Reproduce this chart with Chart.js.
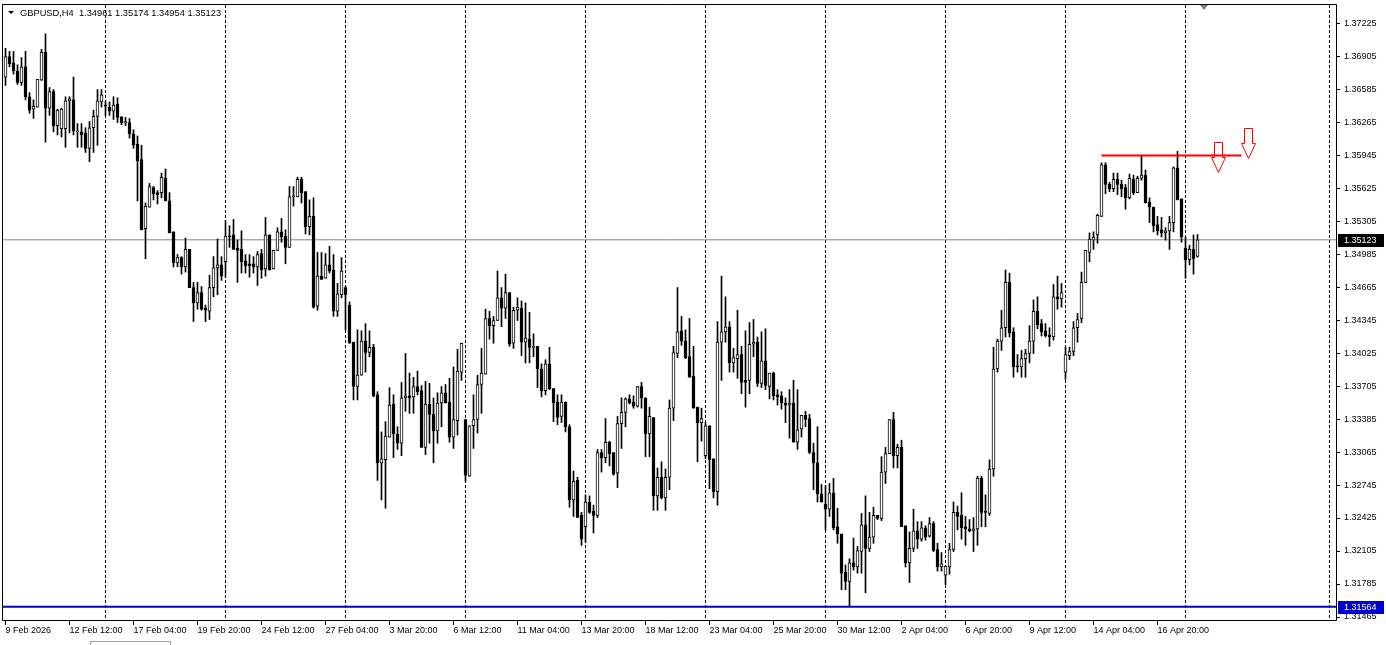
<!DOCTYPE html>
<html>
<head>
<meta charset="utf-8">
<title>GBPUSD,H4</title>
<script src="https://cdn.jsdelivr.net/npm/chart.js@4.4.1/dist/chart.umd.min.js"></script>
<style>
  html, body { margin: 0; padding: 0; background: #fff; }
  #wrap { width: 1386px; height: 645px; }
</style>
</head>
<body>
<div id="wrap"><canvas id="myChart" width="1386" height="645"></canvas></div>
<script>
// GBPUSD H4 candles, 9 Feb 20:00 -> 20 Apr 12:00
const symbolTitle = 'GBPUSD,H4';

const opens = [
  1.3670,1.3690,1.3684,1.3676,1.3665,1.3680,1.3651,1.3639,1.3641,1.3667,
  1.3694,1.3640,1.3656,1.3623,1.3620,1.3620,1.3647,1.3648,1.3617,1.3617,
  1.3616,1.3601,1.3621,1.3632,1.3646,1.3643,1.3641,1.3637,1.3644,1.3631,
  1.3626,1.3626,1.3615,1.3605,1.3590,1.3523,1.3544,1.3563,1.3558,1.3558,
  1.3572,1.3550,1.3520,1.3490,1.3495,1.3486,1.3503,1.3466,1.3451,1.3461,
  1.3446,1.3443,1.3466,1.3485,1.3488,1.3491,1.3516,1.3517,1.3504,1.3503,
  1.3492,1.3489,1.3489,1.3486,1.3499,1.3484,1.3517,1.3484,1.3502,1.3520,
  1.3516,1.3505,1.3554,1.3554,1.3571,1.3559,1.3525,1.3535,1.3448,1.3477,
  1.3475,1.3488,1.3483,1.3443,1.3459,1.3466,1.3449,1.3413,1.3370,1.3381,
  1.3414,1.3403,1.3408,1.3362,1.3296,1.3299,1.3321,1.3353,1.3324,1.3315,
  1.3359,1.3361,1.3360,1.3370,1.3366,1.3311,1.3353,1.3343,1.3327,1.3354,
  1.3364,1.3355,1.3321,1.3337,1.3384,1.3338,1.3283,1.3332,1.3338,1.3372,
  1.3382,1.3436,1.3429,1.3434,1.3456,1.3446,1.3461,1.3412,1.3444,1.3446,
  1.3413,1.3416,1.3408,1.3409,1.3387,1.3366,1.3392,1.3368,1.3355,1.3341,
  1.3355,1.3331,1.3260,1.3279,1.3245,1.3234,1.3258,1.3249,1.3245,1.3306,
  1.3301,1.3316,1.3306,1.3286,1.3334,1.3345,1.3358,1.3355,1.3351,1.3370,
  1.3359,1.3324,1.3340,1.3264,1.3282,1.3262,1.3282,1.3349,1.3402,1.3424,
  1.3414,1.3399,1.3380,1.3350,1.3335,1.3303,1.3332,1.3300,1.3268,1.3413,
  1.3423,1.3428,1.3393,1.3397,1.3401,1.3376,1.3376,1.3411,1.3413,1.3373,
  1.3395,1.3370,1.3383,1.3362,1.3361,1.3354,1.3352,1.3354,1.3316,1.3329,
  1.3342,1.3339,1.3306,1.3296,1.3266,1.3256,1.3251,1.3267,1.3234,1.3227,
  1.3190,1.3181,1.3199,1.3195,1.3210,1.3236,1.3213,1.3224,1.3245,1.3242,
  1.3287,1.3305,1.3338,1.3303,1.3311,1.3235,1.3199,1.3213,1.3230,1.3222,
  1.3233,1.3225,1.3237,1.3212,1.3195,1.3187,1.3195,1.3212,1.3248,1.3245,
  1.3234,1.3232,1.3230,1.3232,1.3281,1.3249,1.3247,1.3290,1.3387,1.3414,
  1.3427,1.3471,1.3423,1.3390,1.3389,1.3397,1.3402,1.3414,1.3443,1.3431,
  1.3424,1.3420,1.3418,1.3457,1.3455,1.3384,1.3400,1.3404,1.3427,1.3436,
  1.3471,1.3500,1.3512,1.3517,1.3535,1.3585,1.3566,1.3562,1.3571,1.3566,
  1.3563,1.3553,1.3571,1.3558,1.3572,1.3575,1.3549,1.3544,1.3527,1.3522,
  1.3519,1.3521,1.3529,1.3582,1.3552,1.3504,1.3493,1.3503,1.34961
];

const highs = [
  1.3698,1.3695,1.3695,1.3682,1.3689,1.3695,1.3655,1.3648,1.3668,1.3697,
  1.3712,1.3660,1.3658,1.3639,1.3640,1.3651,1.3651,1.3670,1.3625,1.3625,
  1.3621,1.3627,1.3638,1.3658,1.3658,1.3647,1.3646,1.3651,1.3650,1.3632,
  1.3631,1.3630,1.3619,1.3613,1.3604,1.3548,1.3567,1.3564,1.3560,1.3577,
  1.3581,1.3558,1.3520,1.3498,1.3496,1.3514,1.3503,1.3471,1.3471,1.3467,
  1.3449,1.3478,1.3496,1.3513,1.3496,1.3531,1.3526,1.3532,1.3512,1.3521,
  1.3498,1.3498,1.3496,1.3501,1.3503,1.3534,1.3517,1.3502,1.3524,1.3533,
  1.3522,1.3564,1.3564,1.3573,1.3573,1.3559,1.3551,1.3553,1.3500,1.3500,
  1.3499,1.3506,1.3498,1.3470,1.3495,1.3467,1.3452,1.3413,1.3425,1.3424,
  1.3431,1.3424,1.3411,1.3365,1.3326,1.3336,1.3369,1.3362,1.3331,1.3374,
  1.3402,1.3383,1.3379,1.3385,1.3371,1.3375,1.3373,1.3359,1.3364,1.3370,
  1.3372,1.3378,1.3389,1.3406,1.3412,1.3338,1.3332,1.3362,1.3381,1.3407,
  1.3445,1.3443,1.3438,1.3482,1.3466,1.3479,1.3461,1.3447,1.3456,1.3453,
  1.3451,1.3442,1.3421,1.3409,1.3392,1.3396,1.3408,1.3368,1.3362,1.3362,
  1.3355,1.3333,1.3288,1.3282,1.3248,1.3265,1.3264,1.3255,1.3309,1.3309,
  1.3339,1.3317,1.3306,1.3341,1.3359,1.3359,1.3362,1.3361,1.3370,1.3374,
  1.3359,1.3350,1.3340,1.3291,1.3297,1.3290,1.3357,1.3409,1.3466,1.3438,
  1.3425,1.3436,1.3409,1.3350,1.3349,1.3335,1.3332,1.3300,1.3433,1.3477,
  1.3457,1.3433,1.3407,1.3444,1.3409,1.3424,1.3432,1.3435,1.3418,1.3423,
  1.3426,1.3383,1.3384,1.3367,1.3365,1.3359,1.3367,1.3376,1.3367,1.3342,
  1.3346,1.3343,1.3315,1.3331,1.3275,1.3274,1.3276,1.3281,1.3252,1.3227,
  1.3197,1.3203,1.3223,1.3215,1.3247,1.3264,1.3248,1.3253,1.3245,1.3302,
  1.3311,1.3338,1.3345,1.3314,1.3318,1.3235,1.3229,1.3251,1.3239,1.3239,
  1.3235,1.3243,1.3239,1.3218,1.3209,1.3196,1.3218,1.3258,1.3254,1.3267,
  1.3244,1.3241,1.3243,1.3283,1.3283,1.3265,1.3299,1.3408,1.3416,1.3444,
  1.3483,1.3480,1.3427,1.3401,1.3405,1.3406,1.3429,1.3454,1.3457,1.3435,
  1.3431,1.3427,1.3469,1.3477,1.3470,1.3408,1.3408,1.3433,1.3441,1.3481,
  1.3502,1.3519,1.3520,1.3537,1.3587,1.3587,1.3568,1.3577,1.3577,1.3570,
  1.3566,1.3576,1.3575,1.3574,1.3594,1.3580,1.3553,1.3544,1.3535,1.3534,
  1.3524,1.3535,1.3583,1.3598,1.3552,1.3515,1.3507,1.3517,1.35174
];

const lows = [
  1.3662,1.3680,1.3673,1.3663,1.3662,1.3648,1.3635,1.3630,1.3641,1.3667,
  1.3607,1.3633,1.3617,1.3614,1.3612,1.3602,1.3616,1.3614,1.3602,1.3602,
  1.3597,1.3588,1.3597,1.3604,1.3641,1.3633,1.3633,1.3629,1.3626,1.3624,
  1.3623,1.3611,1.3601,1.3550,1.3522,1.3494,1.3544,1.3551,1.3547,1.3553,
  1.3550,1.3519,1.3486,1.3486,1.3479,1.3481,1.3466,1.3433,1.3445,1.3444,
  1.3433,1.3435,1.3457,1.3459,1.3473,1.3476,1.3505,1.3503,1.3471,1.3480,
  1.3480,1.3476,1.3480,1.3468,1.3475,1.3477,1.3483,1.3484,1.3502,1.3510,
  1.3489,1.3505,1.3545,1.3554,1.3548,1.3518,1.3517,1.3446,1.3444,1.3474,
  1.3475,1.3480,1.3438,1.3438,1.3456,1.3425,1.3412,1.3357,1.3357,1.3381,
  1.3384,1.3399,1.3360,1.3279,1.3260,1.3252,1.3321,1.3301,1.3309,1.3303,
  1.3346,1.3344,1.3344,1.3362,1.3311,1.3304,1.3315,1.3296,1.3315,1.3331,
  1.3354,1.3316,1.3310,1.3323,1.3376,1.3278,1.3283,1.3310,1.3325,1.3344,
  1.3382,1.3416,1.3412,1.3434,1.3428,1.3436,1.3409,1.3407,1.3434,1.3400,
  1.3393,1.3393,1.3399,1.3369,1.3360,1.3362,1.3367,1.3336,1.3333,1.3335,
  1.3326,1.3253,1.3244,1.3243,1.3216,1.3219,1.3247,1.3228,1.3243,1.3287,
  1.3296,1.3293,1.3284,1.3272,1.3310,1.3331,1.3353,1.3349,1.3350,1.3349,
  1.3302,1.3302,1.3250,1.3250,1.3261,1.3250,1.3270,1.3337,1.3398,1.3410,
  1.3397,1.3379,1.3349,1.3297,1.3317,1.3300,1.3271,1.3262,1.3255,1.3376,
  1.3413,1.3384,1.3384,1.3378,1.3363,1.3350,1.3363,1.3399,1.3370,1.3369,
  1.3367,1.3358,1.3357,1.3352,1.3348,1.3335,1.3320,1.3316,1.3309,1.3321,
  1.3331,1.3305,1.3270,1.3258,1.3258,1.3231,1.3244,1.3231,1.3218,1.3173,
  1.3173,1.31564,1.3192,1.3189,1.3189,1.3170,1.3210,1.3218,1.3241,1.3240,
  1.3276,1.3305,1.3291,1.3291,1.3234,1.3195,1.3180,1.3210,1.3213,1.3220,
  1.3221,1.3224,1.3210,1.3191,1.3191,1.3178,1.3188,1.3210,1.3231,1.3222,
  1.3216,1.3229,1.3210,1.3216,1.3234,1.3234,1.3245,1.3283,1.3384,1.3405,
  1.3418,1.3418,1.3379,1.3384,1.3379,1.3379,1.3393,1.3402,1.3426,1.3419,
  1.3418,1.3409,1.3415,1.3445,1.3447,1.3377,1.3396,1.3400,1.3413,1.3432,
  1.3471,1.3491,1.3503,1.3509,1.3535,1.3557,1.3559,1.3559,1.3556,1.3554,
  1.3542,1.3552,1.3556,1.3558,1.3570,1.3548,1.3529,1.3520,1.3517,1.3515,
  1.3512,1.3503,1.3520,1.3551,1.3510,1.3475,1.3488,1.3479,1.34954
];

const closes = [
  1.3690,1.3683,1.3676,1.3665,1.3680,1.3651,1.3638,1.3642,1.3668,1.3694,
  1.3640,1.3656,1.3623,1.3638,1.3639,1.3647,1.3649,1.3618,1.3618,1.3614,
  1.3601,1.3621,1.3632,1.3647,1.3653,1.3642,1.3637,1.3643,1.3631,1.3626,
  1.3626,1.3615,1.3604,1.3589,1.3522,1.3545,1.3564,1.3557,1.3556,1.3573,
  1.3550,1.3519,1.3490,1.3495,1.3486,1.3503,1.3466,1.3451,1.3461,1.3445,
  1.3444,1.3466,1.3485,1.3488,1.3477,1.3516,1.3515,1.3503,1.3502,1.3491,
  1.3487,1.3487,1.3486,1.3498,1.3483,1.3517,1.3483,1.3502,1.3520,1.3515,
  1.3505,1.3554,1.3555,1.3571,1.3558,1.3525,1.3535,1.3447,1.3477,1.3474,
  1.3488,1.3482,1.3443,1.3460,1.3482,1.3459,1.3412,1.3370,1.3381,1.3414,
  1.3403,1.3408,1.3361,1.3296,1.3300,1.3322,1.3352,1.3324,1.3315,1.3359,
  1.3361,1.3359,1.3370,1.3365,1.3311,1.3353,1.3343,1.3327,1.3354,1.3364,
  1.3354,1.3321,1.3338,1.3385,1.3412,1.3284,1.3332,1.3338,1.3372,1.3383,
  1.3436,1.3429,1.3434,1.3456,1.3446,1.3461,1.3411,1.3444,1.3447,1.3413,
  1.3417,1.3408,1.3408,1.3387,1.3366,1.3392,1.3368,1.3354,1.3340,1.3355,
  1.3331,1.3260,1.3278,1.3243,1.3222,1.3258,1.3248,1.3245,1.3306,1.3301,
  1.3316,1.3305,1.3285,1.3334,1.3345,1.3358,1.3354,1.3351,1.3370,1.3359,
  1.3324,1.3341,1.3264,1.3282,1.3262,1.3282,1.3349,1.3403,1.3423,1.3414,
  1.3398,1.3379,1.3349,1.3335,1.3339,1.3332,1.3299,1.3268,1.3413,1.3423,
  1.3428,1.3393,1.3398,1.3401,1.3374,1.3374,1.3411,1.3413,1.3373,1.3395,
  1.3371,1.3383,1.3361,1.3360,1.3354,1.3352,1.3354,1.3316,1.3328,1.3342,
  1.3338,1.3306,1.3296,1.3266,1.3258,1.3251,1.3267,1.3233,1.3227,1.3189,
  1.3181,1.3199,1.3195,1.3211,1.3236,1.3213,1.3224,1.3245,1.3242,1.3287,
  1.3305,1.3338,1.3303,1.3311,1.3234,1.3199,1.3213,1.3230,1.3222,1.3233,
  1.3224,1.3237,1.3211,1.3195,1.3198,1.3196,1.3212,1.3248,1.3244,1.3233,
  1.3232,1.3230,1.3232,1.3281,1.3248,1.3248,1.3290,1.3387,1.3414,1.3427,
  1.3471,1.3422,1.3389,1.3389,1.3397,1.3402,1.3414,1.3443,1.3430,1.3423,
  1.3419,1.3418,1.3457,1.3455,1.3461,1.3401,1.3404,1.3427,1.3435,1.3471,
  1.3502,1.3513,1.3515,1.3536,1.3585,1.3566,1.3562,1.3571,1.3566,1.3562,
  1.3553,1.3572,1.3558,1.3572,1.3575,1.3548,1.3544,1.3526,1.3521,1.3519,
  1.3521,1.3529,1.3582,1.3551,1.3515,1.3493,1.3503,1.3494,1.35123
];

// time scale labels, one every 16 bars starting at bar 0
const xTickLabels = [
  '9 Feb 2026', '12 Feb 12:00', '17 Feb 04:00', '19 Feb 20:00', '24 Feb 12:00',
  '27 Feb 04:00', '3 Mar 20:00', '6 Mar 12:00', '11 Mar 04:00', '13 Mar 20:00',
  '18 Mar 12:00', '23 Mar 04:00', '25 Mar 20:00', '30 Mar 12:00', '2 Apr 04:00',
  '6 Apr 20:00', '9 Apr 12:00', '14 Apr 04:00', '16 Apr 20:00'
];
const labelEvery = 16;

// bars where a new week starts (dotted vertical grid)
const weekStartBars = [25, 55, 85, 115, 145, 175, 205, 235, 265, 295, 331];

// price scale
const yTickValues = [
  1.37225, 1.36905, 1.36585, 1.36265, 1.35945, 1.35625, 1.35305, 1.34985, 1.34665, 1.34345,
  1.34025, 1.33705, 1.33385, 1.33065, 1.32745, 1.32425, 1.32105, 1.31785, 1.31465
];
const priceMax = 1.37400;
const priceMin = 1.31436;

// objects on the chart
const bidPrice = 1.35123;
const lowLinePrice = 1.31564;
const resistance = { from: 274, to: 309, price: 1.3594 };
const sellArrows = [ { bar: 303, price: 1.3578 }, { bar: 310.5, price: 1.3592 } ];

// visible bar range (4 px per bar)
const barMin = -0.625;
const barMax = 332.625;

const uiFont = '"Liberation Sans", Arial, sans-serif';

//Building candle pieces
const candleBodies = opens.map(function (o, i) {
  return { x: i, y: [o, closes[i]] };
});
const candleWicks = lows.map(function (l, i) {
  return { x: i, y: [l, highs[i]] };
});
const bodyColors = opens.map(function (o, i) {
  return closes[i] >= o ? '#ffffff' : '#000000';
});

function flatLine(x0, x1, price) {
  return [{ x: x0, y: price }, { x: x1, y: price }];
}

function zeroPadding(scale) {
  scale.paddingLeft = 0;
  scale.paddingRight = 0;
  scale.paddingTop = 0;
  scale.paddingBottom = 0;
}

//Drawing the MT4 bits that are not plain datasets
const mt4Decor = {
  id: 'mt4Decor',
  afterDraw(chart) {
    const ctx = chart.ctx;
    const a = chart.chartArea;
    const xs = chart.scales.x;
    const ys = chart.scales.y;
    ctx.save();

    // frame of the plot
    ctx.strokeStyle = '#000';
    ctx.lineWidth = 1;
    ctx.beginPath();
    ctx.moveTo(a.left - 0.5, a.bottom + 0.5);
    ctx.lineTo(a.left - 0.5, a.top - 0.5);
    ctx.lineTo(a.right + 0.5, a.top - 0.5);
    ctx.lineTo(a.right + 0.5, a.bottom + 0.5);
    ctx.closePath();
    ctx.stroke();

    // price tick marks
    yTickValues.forEach(function (v) {
      const py = Math.round(ys.getPixelForValue(v)) + 0.5;
      ctx.beginPath();
      ctx.moveTo(a.right + 1, py);
      ctx.lineTo(a.right + 4, py);
      ctx.stroke();
    });
    // time tick marks
    xTickLabels.forEach(function (t, k) {
      const px = Math.round(xs.getPixelForValue(k * labelEvery) - 0.5) + 0.5;
      ctx.beginPath();
      ctx.moveTo(px, a.bottom + 1);
      ctx.lineTo(px, a.bottom + 5);
      ctx.stroke();
    });

    // sell arrows
    ctx.strokeStyle = '#ff0000';
    sellArrows.forEach(function (ar) {
      const cx = Math.round(xs.getPixelForValue(ar.bar)) + 0.5;
      const ty = Math.round(ys.getPixelForValue(ar.price)) + 0.5;
      ctx.beginPath();
      ctx.moveTo(cx, ty);
      ctx.lineTo(cx - 7, ty - 15);
      ctx.lineTo(cx - 4, ty - 15);
      ctx.lineTo(cx - 4, ty - 30);
      ctx.lineTo(cx + 4, ty - 30);
      ctx.lineTo(cx + 4, ty - 15);
      ctx.lineTo(cx + 7, ty - 15);
      ctx.closePath();
      ctx.stroke();
    });

    // price tags on the scale
    ctx.font = '9px ' + uiFont;
    ctx.textBaseline = 'middle';
    ctx.textAlign = 'left';
    [[bidPrice, '#000000'], [lowLinePrice, '#0000cd']].forEach(function (tag) {
      const py = Math.round(ys.getPixelForValue(tag[0]));
      ctx.fillStyle = tag[1];
      ctx.fillRect(a.right + 2, py - 6, 46, 13);
      ctx.fillStyle = '#ffffff';
      ctx.fillText(tag[0].toFixed(5), a.right + 8, py + 0.5);
    });

    // chart shift marker
    ctx.fillStyle = '#808080';
    const sx = Math.round(xs.getPixelForValue(299.5));
    ctx.beginPath();
    ctx.moveTo(sx - 4, a.top);
    ctx.lineTo(sx + 4, a.top);
    ctx.lineTo(sx, a.top + 5);
    ctx.closePath();
    ctx.fill();

    // little scroll tab under the time scale
    ctx.strokeStyle = '#a0a0a0';
    ctx.strokeRect(90.5, 641.5, 80, 6);

    // header
    ctx.fillStyle = '#000';
    ctx.beginPath();
    ctx.moveTo(a.left + 5, a.top + 6);
    ctx.lineTo(a.left + 11, a.top + 6);
    ctx.lineTo(a.left + 8, a.top + 9);
    ctx.closePath();
    ctx.fill();
    const last = opens.length - 1;
    ctx.font = '9.3px ' + uiFont;
    ctx.fillText(symbolTitle + '  ' + [opens[last], highs[last], lows[last], closes[last]]
      .map(function (v) { return v.toFixed(5); }).join(' '), a.left + 17, a.top + 8);
    ctx.restore();
  }
};

function drawChart() {
  let ctx = document.getElementById('myChart');
  let myChart = new Chart(ctx, {
    type: 'bar',
    data: {
      datasets: [{
        label: 'body',
        data: candleBodies,
        backgroundColor: bodyColors,
        borderColor: '#000000',
        borderWidth: 1,
        borderSkipped: false,
        barThickness: 3,
        minBarLength: 1,
        grouped: false,
        order: 1
      }, {
        label: 'wick',
        data: candleWicks,
        backgroundColor: '#000000',
        borderWidth: 0,
        barThickness: 1,
        grouped: false,
        order: 2
      }, {
        type: 'line',
        label: 'bid',
        data: flatLine(barMin, barMax, bidPrice),
        borderColor: '#778899',
        borderWidth: 1,
        pointRadius: 0,
        order: 3
      }, {
        type: 'line',
        label: 'low line',
        data: flatLine(barMin, barMax, lowLinePrice),
        borderColor: '#0000cd',
        borderWidth: 2,
        pointRadius: 0,
        order: 0
      }, {
        type: 'line',
        label: 'resistance',
        data: flatLine(resistance.from, resistance.to, resistance.price),
        borderColor: '#ff0000',
        borderWidth: 2,
        pointRadius: 0,
        order: 0
      }]
    },
    options: {
      responsive: false,
      animation: false,
      devicePixelRatio: 1,
      layout: { padding: { left: 3, top: 5, right: 0, bottom: 0 } },
      plugins: {
        legend: { display: false },
        tooltip: { enabled: false },
        title: { display: false }
      },
      scales: {
        x: {
          type: 'linear',
          position: 'bottom',
          min: barMin,
          max: barMax,
          offset: false,
          grid: { display: false, drawTicks: false, offset: false },
          border: { display: false },
          afterBuildTicks: function (s) {
            s.ticks = xTickLabels.map(function (t, k) { return { value: k * labelEvery }; });
          },
          afterFit: function (s) { s.height = 25; zeroPadding(s); },
          ticks: {
            autoSkip: false,
            maxRotation: 0,
            minRotation: 0,
            align: 'start',
            padding: 5,
            color: '#000',
            font: { family: uiFont, size: 9 },
            callback: function (v) { return xTickLabels[Math.round(v / labelEvery)]; }
          }
        },
        weeks: {
          type: 'linear',
          position: 'bottom',
          min: barMin,
          max: barMax,
          offset: false,
          ticks: { display: false },
          grid: { display: true, drawTicks: false, offset: false, color: '#000000', lineWidth: 1 },
          border: { display: false, dash: [3, 2] },
          afterBuildTicks: function (s) {
            s.ticks = weekStartBars.map(function (b) { return { value: b }; });
          },
          afterFit: function (s) { s.height = 0; zeroPadding(s); }
        },
        y: {
          type: 'linear',
          position: 'right',
          min: priceMin,
          max: priceMax,
          grid: { display: false, drawTicks: false },
          border: { display: false },
          afterBuildTicks: function (s) {
            s.ticks = yTickValues.map(function (v) { return { value: v }; });
          },
          afterFit: function (s) { s.width = 50; zeroPadding(s); },
          ticks: {
            padding: 8,
            color: '#000',
            font: { family: uiFont, size: 9 },
            callback: function (v) { return v.toFixed(5); }
          }
        }
      }
    },
    plugins: [mt4Decor]
  });
};
drawChart();
</script>
</body>
</html>
